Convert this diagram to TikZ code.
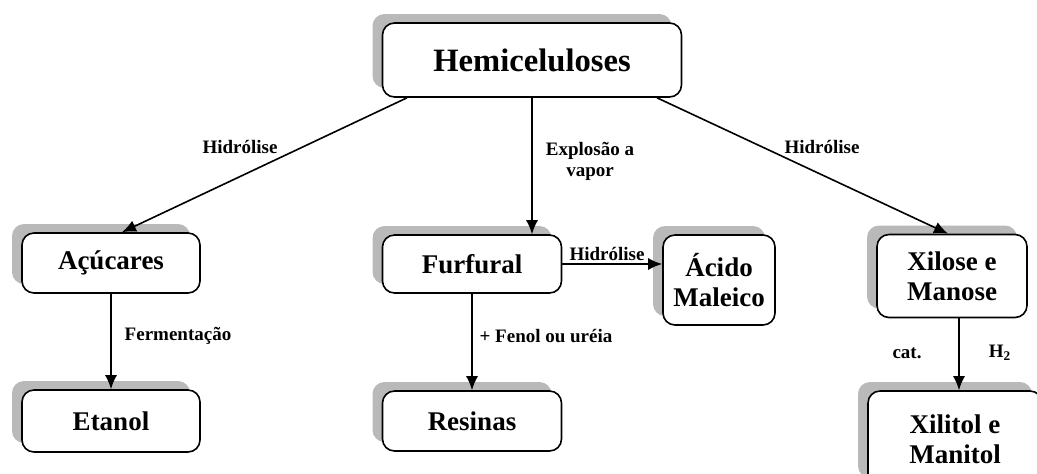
\documentclass[tikz,border=0pt]{standalone}
\usepackage{fontspec}
\setmainfont{Liberation Serif}
\usetikzlibrary{shadows,arrows.meta}

\tikzset{
  caixa/.style={draw, thick, rounded corners=6pt, fill=white, align=center,
    font=\fontsize{13.5}{15}\selectfont\bfseries,
    general shadow={shadow xshift=-5pt, shadow yshift=4.5pt, fill=gray!55}},
  rotulo/.style={font=\fontsize{9.5}{10.5}\selectfont\bfseries, align=center, inner sep=1pt},
  seta/.style={-{Latex[length=7pt,width=6pt]}, thick}
}

\begin{document}
\begin{tikzpicture}[x=0.5pt,y=-0.5pt]
\useasboundingbox (0,0) rectangle (1037,473);

\node[caixa, minimum width=149.5pt, minimum height=37pt,
  font=\fontsize{16.3}{18}\selectfont\bfseries] (hemi) at (532,60) {Hemiceluloses};
\node[caixa, minimum width=89pt, minimum height=30pt] (acu) at (111,263) {Açúcares};
\node[caixa, minimum width=89.5pt, minimum height=29pt] (furf) at (472,264) {Furfural};
\node[caixa, minimum width=56pt, minimum height=45pt] (acido) at (719,280) {Ácido\\Maleico};
\node[caixa, minimum width=75pt, minimum height=41.5pt] (xil) at (952,276) {Xilose e\\Manose};
\node[caixa, minimum width=89pt, minimum height=31pt] (etanol) at (111,421) {Etanol};
\node[caixa, minimum width=89.5pt, minimum height=30pt] (resinas) at (472,421) {Resinas};
\node[caixa, minimum width=87pt, minimum height=48pt] (xit) at (955,439) {Xilitol e\\Manitol};

% conectores
\draw[seta] ([xshift=-62.5pt]hemi.south) -- ([xshift=5.5pt]acu.north);
\draw[seta] (hemi.south) -- (hemi.south |- furf.north);
\draw[seta] ([xshift=62.5pt]hemi.south) -- ([xshift=-2pt]xil.north);
\draw[seta] (acu.south) -- (etanol.north);
\draw[seta] (furf.south) -- (resinas.north);
\draw[seta] (furf.east) -- (furf.east -| acido.west);
\draw[seta] ([xshift=3.5pt]xil.south) -- ([xshift=3.5pt]xil.south |- xit.north);

\node[rotulo] (l1) at (240,147) {Hidrólise};
\node[rotulo] (l2) at (590,161) {Explosão a\\vapor};
\node[rotulo] (l3) at (822,147) {Hidrólise};
\node[rotulo] (l4) at (607,254) {Hidrólise};
\node[rotulo] (l5) at (178,336) {Fermentação};
\node[rotulo] (l6) at (546,336) {+ Fenol ou uréia};
\node[rotulo] (l7) at (907,353) {cat.};
\node[rotulo] (l8) at (1000,353) {H\textsubscript{2}};

\end{tikzpicture}
\end{document}
